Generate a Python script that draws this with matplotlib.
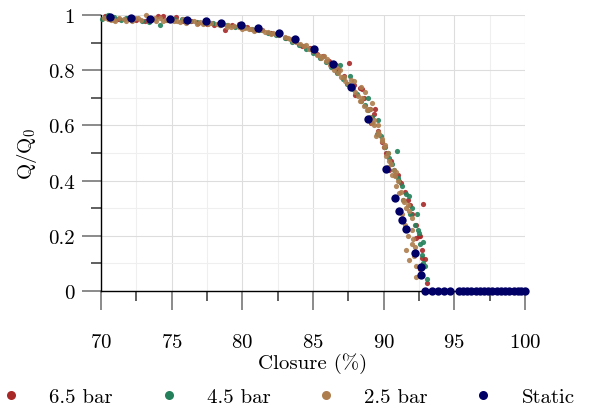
import numpy as np
import matplotlib
matplotlib.use("Agg")
import matplotlib.pyplot as plt
from matplotlib.ticker import MultipleLocator
from matplotlib.lines import Line2D

plt.rcParams['font.family'] = ['cmr10', 'DejaVu Serif']
plt.rcParams['mathtext.fontset'] = 'cm'
plt.rcParams['axes.formatter.use_mathtext'] = True

# closure (%) and normalised flow Q/Q0
red_c = [70.3, 70.8, 71.2, 71.9, 72.5, 73.1, 73.6, 74.0, 74.4, 74.9, 75.3, 75.8,
         76.4, 76.9, 77.5, 78.0, 78.8, 79.3, 79.8, 80.3, 80.9, 81.4, 82.0, 82.6,
         83.1, 83.7, 84.2, 84.8, 85.3, 85.7, 86.1, 86.6, 87.55, 87.2, 87.9, 88.3,
         88.0, 88.6, 89.0, 89.1, 89.3, 89.6, 89.9, 90.2, 90.5, 90.8, 91.2, 91.5,
         91.7, 92.8, 92.0, 92.3, 92.5, 92.7, 92.9, 92.6, 93.1, 93.5,
         88.5, 89.4, 90.0, 90.4, 91.0, 91.9, 92.3, 92.7, 92.6, 86.8]
red_q = [0.995, 0.99, 0.985, 0.99, 0.982, 0.978, 0.985, 0.997, 0.995, 0.99, 0.992, 0.98,
         0.978, 0.972, 0.968, 0.965, 0.945, 0.962, 0.968, 0.955, 0.945, 0.946, 0.936, 0.93,
         0.918, 0.905, 0.888, 0.88, 0.86, 0.852, 0.835, 0.82, 0.825, 0.78, 0.745, 0.735,
         0.71, 0.70, 0.66, 0.61, 0.64, 0.58, 0.54, 0.50, 0.47, 0.42, 0.39, 0.36,
         0.33, 0.315, 0.28, 0.24, 0.20, 0.15, 0.116, 0.08, 0.03, 0.005,
         0.73, 0.66, 0.52, 0.44, 0.42, 0.31, 0.19, 0.12, 0.20, 0.80]

green_c = [70.1, 70.5, 70.9, 71.4, 71.8, 72.3, 72.9, 73.4, 74.2, 74.7, 75.2, 75.7,
           76.3, 76.8, 77.3, 77.9, 78.4, 78.9, 79.5, 80.1, 80.7, 81.2, 81.8, 82.4,
           83.0, 83.5, 84.0, 84.5, 85.0, 85.5, 85.9, 86.3, 86.7, 87.1, 87.4, 87.8,
           88.1, 88.4, 88.7, 88.9, 89.2, 89.5, 89.8, 90.1, 90.4, 90.92, 90.7, 91.0,
           91.3, 91.6, 91.8, 92.0, 92.33, 92.2, 92.5, 92.8, 92.7, 93.04, 92.9,
           88.9, 89.6, 90.3, 90.6, 91.1, 91.4, 91.9, 92.4, 92.6, 92.75, 86.9, 87.6]
green_q = [0.985, 1.0, 0.992, 0.983, 0.988, 0.99, 0.978, 0.975, 0.965, 0.983, 0.987, 0.985,
           0.978, 0.976, 0.972, 0.97, 0.965, 0.962, 0.958, 0.955, 0.948, 0.944, 0.936, 0.928,
           0.918, 0.902, 0.89, 0.875, 0.862, 0.845, 0.83, 0.81, 0.79, 0.768, 0.75, 0.73,
           0.715, 0.69, 0.675, 0.655, 0.63, 0.569, 0.56, 0.52, 0.48, 0.508, 0.44, 0.41,
           0.38, 0.35, 0.345, 0.30, 0.279, 0.24, 0.21, 0.176, 0.13, 0.043, 0.09,
           0.70, 0.62, 0.50, 0.46, 0.40, 0.33, 0.28, 0.22, 0.17, 0.10, 0.82, 0.78]

tan_c = [70.2, 70.5, 70.9, 71.3, 71.6, 72.0, 72.4, 72.8, 73.2, 73.5, 73.9, 74.2,
         74.6, 75.0, 75.4, 75.8, 76.2, 76.6, 77.0, 77.4, 77.8, 78.2, 78.6, 79.0,
         79.4, 79.8, 80.2, 80.6, 81.0, 81.4, 81.8, 82.2, 82.6, 83.0, 83.4, 83.8,
         84.1, 84.4, 84.7, 85.0, 85.3, 85.6, 85.9, 86.2, 86.5, 86.8, 87.0, 87.3,
         87.5, 87.8, 88.0, 88.2, 88.4, 88.6, 88.8, 89.0, 89.2, 89.47, 89.6, 89.9,
         90.0, 90.2, 90.4, 90.7, 90.8, 91.09, 91.0, 91.2, 91.46, 91.6, 91.8, 91.98,
         92.1, 92.15, 91.8, 92.3, 71.0, 72.2, 73.8, 75.6, 77.2, 78.9, 80.5, 82.0,
         83.2, 84.5, 85.8, 86.9, 87.7, 88.5, 89.3, 90.5, 91.4, 92.0,
         70.7, 71.8, 72.6, 73.4, 74.4, 75.2, 76.0, 76.8, 77.6, 78.4, 79.2, 80.0,
         80.8, 81.6, 82.4, 83.6, 84.9, 85.5, 86.0, 86.6, 87.2, 88.3, 88.9, 89.7,
         90.3, 90.9, 91.7, 92.2,
         89.0, 89.3, 89.6, 89.9, 90.1, 90.3, 90.6, 90.9, 91.3, 91.5, 91.7, 92.0,
         92.3, 91.6, 88.4, 87.9, 88.7, 89.2]
tan_q = [0.99, 0.985, 0.982, 0.99, 0.987, 0.984, 0.988, 0.982, 1.0, 0.985, 0.98, 0.988,
         0.983, 0.985, 0.978, 0.984, 0.978, 0.98, 0.975, 0.972, 0.97, 0.968, 0.966, 0.963,
         0.96, 0.958, 0.954, 0.95, 0.948, 0.944, 0.938, 0.934, 0.926, 0.92, 0.912, 0.902,
         0.895, 0.886, 0.876, 0.868, 0.856, 0.845, 0.832, 0.818, 0.80, 0.79, 0.775, 0.76,
         0.75, 0.735, 0.72, 0.705, 0.69, 0.67, 0.655, 0.63, 0.61, 0.563, 0.575, 0.545,
         0.52, 0.49, 0.47, 0.44, 0.418, 0.354, 0.40, 0.36, 0.321, 0.30, 0.29, 0.263,
         0.188, 0.128, 0.112, 0.05, 0.978, 0.98, 0.99, 0.975, 0.968, 0.958, 0.948, 0.93,
         0.915, 0.89, 0.85, 0.8, 0.765, 0.7, 0.6, 0.46, 0.33, 0.22,
         0.983, 0.978, 0.99, 0.982, 0.978, 0.977, 0.972, 0.968, 0.966, 0.962, 0.955, 0.951,
         0.942, 0.94, 0.93, 0.906, 0.872, 0.852, 0.842, 0.81, 0.775, 0.69, 0.66, 0.57,
         0.5, 0.43, 0.31, 0.16,
         0.66, 0.62, 0.60, 0.55, 0.53, 0.45, 0.42, 0.38, 0.28, 0.24, 0.20, 0.17,
         0.09, 0.15, 0.74, 0.76, 0.72, 0.68]

static_c = [70.64, 72.1, 73.5, 74.9, 76.1, 77.45, 78.5, 79.9, 81.1, 82.6, 83.7, 85.07,
            86.4, 87.7, 88.9, 90.15, 90.78, 91.09, 91.32, 91.58, 92.2, 92.67, 92.67,
            92.95, 93.4, 93.85, 94.27, 94.72, 95.3, 95.6, 95.9, 96.2, 96.5, 96.8, 97.1,
            97.4, 97.7, 98.0, 98.3, 98.6, 98.9, 99.2, 99.5, 99.75, 100.0]
static_q = [0.992, 0.99, 0.987, 0.984, 0.982, 0.977, 0.971, 0.963, 0.953, 0.934, 0.913, 0.876,
            0.821, 0.74, 0.622, 0.441, 0.335, 0.289, 0.256, 0.225, 0.137, 0.086, 0.058,
            0, 0, 0, 0, 0, 0, 0, 0, 0, 0, 0, 0,
            0, 0, 0, 0, 0, 0, 0, 0, 0, 0]

labels = ["6.5 bar", "4.5 bar", "2.5 bar", "Static"]
colors = ["#a82828", "#23805a", "#ad7d4d", "#000066"]

fig = plt.figure(figsize=(6.01, 4.10), dpi=100)
ax = fig.add_axes([0.168, 0.288, 0.7055, 0.673])

series = [(red_c, red_q), (green_c, green_q), (tan_c, tan_q)]
for (c, q), col in zip(series, colors[:3]):
    ax.scatter(c, q, s=14, color=col, alpha=0.9, linewidths=0,
               clip_on=False, zorder=3)
ax.scatter(static_c, static_q, s=36, color=colors[3], linewidths=0,
           clip_on=False, zorder=4)

ax.set_xlim(70, 100)
ax.set_ylim(0, 1)
ax.xaxis.set_major_locator(MultipleLocator(5))
ax.xaxis.set_minor_locator(MultipleLocator(2.5))
ax.yaxis.set_major_locator(MultipleLocator(0.2))
ax.yaxis.set_minor_locator(MultipleLocator(0.1))
ax.set_yticks([0, 0.2, 0.4, 0.6, 0.8, 1.0])
ax.set_yticklabels(["0", "0.2", "0.4", "0.6", "0.8", "1"])

ax.grid(which='major', color='#dddddd', linewidth=0.8)
ax.grid(which='minor', color='#efefef', linewidth=0.8)
ax.set_axisbelow(True)

for s in ['top', 'right']:
    ax.spines[s].set_visible(False)
for s in ['left', 'bottom']:
    ax.spines[s].set_linewidth(1.0)
    ax.spines[s].set_zorder(2)

ax.tick_params(axis='x', which='major', length=14, width=1.2, color='#777777',
               pad=16, labelsize=15)
ax.tick_params(axis='y', which='major', length=14, width=1.2, color='#777777',
               pad=5, labelsize=15)
ax.tick_params(which='minor', length=7, width=1.2, color='#444444')

ax.set_xlabel("Closure (%)", fontsize=15, labelpad=1)
ax.set_ylabel("Q/Q$_0$", fontsize=15, labelpad=6)

handles = [Line2D([], [], linestyle='none', marker='o', markersize=6.5,
                  markerfacecolor=col, markeredgewidth=0) for col in colors]
fig.legend(handles, labels, loc='center', bbox_to_anchor=(0.479, 0.029), ncol=4,
           frameon=False, fontsize=15, handlelength=0.95, handletextpad=1.35,
           columnspacing=2.2, borderaxespad=0, borderpad=0)

fig.savefig("out.png", dpi=100)
